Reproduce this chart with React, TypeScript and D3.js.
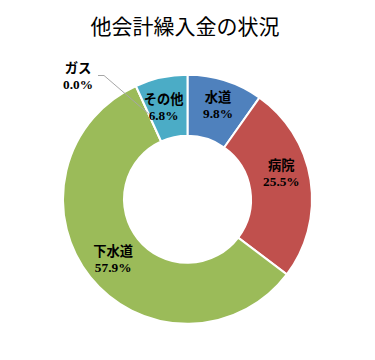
import React from "react";
import * as d3 from "d3";

const title = "他会計繰入金の状況";
const categories = ["水道", "病院", "下水道", "ガス", "その他"];
const values = [9.8, 25.5, 57.9, 0.0, 6.8];
const colors = ["#4F81BD", "#C0504D", "#9BBB59", "#8064A2", "#4BACC6"];
// label nudges relative to slice centroid (px)
const labelDx = [2, 1, -1, 0, -4];
const labelDy = [-5, -12, 0, 0, -1];

const W = 375;
const H = 360;
const cx = 187.5;
const cy = 199.3;
const outerR = 124.5;
const innerR = 63.5;

export default function App() {
  const pie = d3
    .pie<number>()
    .sort(null)
    .value((d) => d)
    .startAngle(0)
    .endAngle(2 * Math.PI);
  const arcs = pie(values);
  const arc = d3.arc<d3.PieArcDatum<number>>().innerRadius(innerR).outerRadius(outerR);
  const fmt = (v: number) => v.toFixed(1) + "%";
  const fontFam = "'Liberation Serif', 'Noto Sans CJK JP', serif";

  return (
    <svg
      width={W}
      height={H}
      style={{ position: "absolute", left: 0, top: 0, background: "#fff" }}
    >
      <text
        x={185}
        y={34}
        textAnchor="middle"
        fontFamily="'Noto Sans CJK JP', sans-serif"
        fontSize={21}
        fill="#000"
      >
        {title}
      </text>
      <g transform={`translate(${cx},${cy})`}>
        {arcs.map((a, i) => (
          <path key={i} d={arc(a) || ""} fill={colors[i]} stroke="#fff" strokeWidth={2} />
        ))}
        {arcs.map((a, i) => {
          const [x, y] = arc.centroid(a);
          if (values[i] === 0) {
            const lx = 78 - cx;
            const ly = 75.5 - cy;
            return (
              <g key={"l" + i}>
                <polyline
                  points={`${lx + 20},${ly} ${lx + 26},${ly} ${x},${y}`}
                  fill="none"
                  stroke="#A6A6A6"
                  strokeWidth={1}
                />
                <text
                  x={lx}
                  y={ly}
                  textAnchor="middle"
                  fontFamily={fontFam}
                  fontWeight="bold"
                  fontSize={13.3}
                  fill="#000"
                >
                  <tspan x={lx} dy={-2.5}>{categories[i]}</tspan>
                  <tspan x={lx} dy={16}>{fmt(values[i])}</tspan>
                </text>
              </g>
            );
          }
          const tx = x + labelDx[i];
          const ty = y + labelDy[i];
          return (
            <text
              key={"l" + i}
              x={tx}
              y={ty}
              textAnchor="middle"
              fontFamily={fontFam}
              fontWeight="bold"
              fontSize={13.3}
              fill="#000"
            >
              <tspan x={tx} dy={-2.5}>{categories[i]}</tspan>
              <tspan x={tx} dy={16}>{fmt(values[i])}</tspan>
            </text>
          );
        })}
      </g>
    </svg>
  );
}
